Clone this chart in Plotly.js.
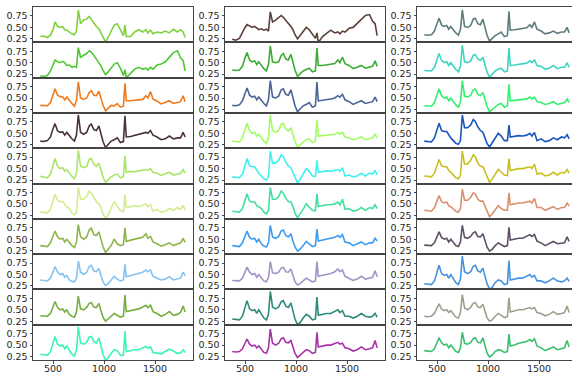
<!DOCTYPE html>
<html>
<head>
<meta charset="utf-8">
<script src="https://cdn.plot.ly/plotly-3.0.1.min.js"></script>
<style>html,body{margin:0;padding:0;background:#fff;}#plot{width:572px;height:374px;}</style>
</head>
<body>
<div id="plot"></div>
<script>
// shared wavenumber grid
const wavenumber = [375,410,445,475,500,520,545,570,595,615,635,660,685,710,730,748,770,800,830,855,875,900,925,950,970,990,1015,1040,1070,1100,1130,1160,1190,1205,1218,1260,1300,1340,1380,1410,1430,1455,1480,1520,1560,1600,1640,1680,1720,1750,1775,1795];
const xTicks = [500, 1000, 1500];
const yTicks = [0.25, 0.50, 0.75];
const yTickText = ['0.25', '0.50', '0.75'];

// column 1
const c1r1 = [0.30,0.31,0.28,0.33,0.45,0.62,0.52,0.50,0.52,0.45,0.44,0.40,0.36,0.34,0.42,0.88,0.58,0.66,0.68,0.74,0.68,0.58,0.52,0.47,0.38,0.28,0.18,0.28,0.42,0.55,0.58,0.45,0.32,0.55,0.30,0.30,0.40,0.45,0.40,0.45,0.38,0.44,0.36,0.40,0.38,0.42,0.38,0.46,0.40,0.45,0.40,0.28];
const c1r2 = [0.21,0.20,0.22,0.32,0.45,0.56,0.52,0.50,0.53,0.50,0.44,0.45,0.40,0.42,0.40,0.83,0.62,0.66,0.70,0.76,0.73,0.66,0.58,0.50,0.43,0.33,0.24,0.30,0.38,0.47,0.50,0.38,0.22,0.35,0.17,0.28,0.36,0.40,0.36,0.38,0.34,0.40,0.36,0.45,0.47,0.52,0.62,0.72,0.76,0.60,0.55,0.32];
const c1r3 = [0.34,0.33,0.33,0.40,0.58,0.70,0.56,0.53,0.52,0.46,0.52,0.44,0.38,0.32,0.45,0.85,0.50,0.47,0.50,0.62,0.66,0.56,0.55,0.65,0.50,0.34,0.22,0.27,0.34,0.33,0.38,0.30,0.32,0.82,0.44,0.44,0.45,0.46,0.47,0.55,0.50,0.64,0.48,0.43,0.37,0.40,0.44,0.38,0.40,0.42,0.55,0.42];
const c1r4 = [0.33,0.32,0.34,0.42,0.60,0.71,0.55,0.52,0.53,0.46,0.52,0.44,0.38,0.33,0.46,0.90,0.52,0.48,0.52,0.66,0.70,0.58,0.56,0.66,0.50,0.32,0.19,0.26,0.33,0.36,0.40,0.30,0.32,0.88,0.42,0.43,0.45,0.48,0.49,0.52,0.50,0.56,0.46,0.42,0.36,0.38,0.44,0.38,0.40,0.40,0.52,0.42];
const c1r5 = [0.33,0.32,0.30,0.38,0.58,0.72,0.55,0.50,0.52,0.44,0.48,0.40,0.33,0.28,0.40,0.90,0.55,0.52,0.55,0.70,0.72,0.60,0.55,0.62,0.48,0.32,0.20,0.26,0.32,0.36,0.38,0.30,0.33,0.78,0.42,0.44,0.43,0.45,0.46,0.48,0.46,0.50,0.42,0.40,0.35,0.38,0.42,0.36,0.38,0.40,0.48,0.40];
const c1r6 = [0.32,0.32,0.30,0.38,0.58,0.71,0.58,0.55,0.55,0.48,0.44,0.40,0.30,0.26,0.32,0.86,0.60,0.60,0.66,0.78,0.74,0.64,0.55,0.50,0.42,0.28,0.18,0.26,0.40,0.55,0.45,0.36,0.33,0.70,0.42,0.44,0.46,0.44,0.47,0.50,0.44,0.48,0.34,0.38,0.32,0.34,0.40,0.36,0.42,0.38,0.47,0.36];
const c1r7 = [0.36,0.35,0.34,0.42,0.58,0.68,0.55,0.50,0.52,0.44,0.50,0.42,0.36,0.32,0.44,0.82,0.55,0.50,0.55,0.70,0.74,0.60,0.58,0.66,0.50,0.34,0.21,0.28,0.36,0.50,0.40,0.36,0.38,0.75,0.45,0.48,0.50,0.52,0.54,0.62,0.52,0.56,0.44,0.40,0.35,0.38,0.42,0.36,0.40,0.42,0.52,0.43];
const c1r8 = [0.38,0.37,0.36,0.42,0.56,0.67,0.55,0.50,0.52,0.44,0.48,0.38,0.35,0.34,0.42,0.79,0.55,0.50,0.55,0.68,0.70,0.58,0.56,0.63,0.48,0.34,0.26,0.30,0.38,0.46,0.40,0.36,0.38,0.72,0.45,0.48,0.50,0.52,0.55,0.60,0.56,0.60,0.46,0.42,0.38,0.40,0.45,0.38,0.40,0.42,0.55,0.47];
const c1r9 = [0.37,0.37,0.36,0.42,0.56,0.68,0.55,0.50,0.52,0.45,0.50,0.40,0.36,0.34,0.45,0.80,0.52,0.50,0.55,0.64,0.66,0.56,0.55,0.64,0.48,0.34,0.25,0.30,0.36,0.42,0.38,0.34,0.36,0.82,0.46,0.48,0.50,0.52,0.56,0.60,0.55,0.60,0.46,0.42,0.36,0.40,0.46,0.38,0.40,0.44,0.58,0.45];
const c1r10 = [0.30,0.29,0.28,0.36,0.55,0.69,0.52,0.48,0.50,0.42,0.48,0.38,0.30,0.26,0.40,0.90,0.55,0.52,0.56,0.68,0.69,0.58,0.54,0.66,0.48,0.30,0.17,0.22,0.32,0.40,0.38,0.28,0.28,0.80,0.36,0.38,0.40,0.40,0.44,0.47,0.43,0.46,0.34,0.33,0.31,0.36,0.41,0.37,0.32,0.33,0.40,0.34];

// column 2
const c2r1 = [0.24,0.22,0.26,0.40,0.50,0.56,0.52,0.50,0.52,0.48,0.45,0.47,0.44,0.46,0.42,0.84,0.62,0.66,0.72,0.76,0.72,0.66,0.60,0.52,0.45,0.34,0.25,0.32,0.42,0.50,0.45,0.34,0.26,0.38,0.17,0.30,0.38,0.44,0.38,0.40,0.36,0.42,0.40,0.48,0.50,0.58,0.66,0.76,0.78,0.64,0.58,0.32];
const c2r2 = [0.34,0.33,0.34,0.42,0.60,0.72,0.56,0.52,0.54,0.46,0.52,0.44,0.37,0.32,0.46,0.86,0.52,0.50,0.52,0.66,0.70,0.58,0.56,0.68,0.50,0.34,0.20,0.26,0.32,0.35,0.38,0.30,0.32,0.82,0.44,0.44,0.45,0.46,0.48,0.56,0.50,0.62,0.48,0.44,0.37,0.40,0.44,0.38,0.40,0.42,0.54,0.42];
const c2r3 = [0.34,0.33,0.35,0.44,0.60,0.72,0.56,0.52,0.54,0.46,0.52,0.44,0.38,0.33,0.46,0.88,0.52,0.50,0.54,0.68,0.70,0.58,0.56,0.68,0.50,0.33,0.20,0.26,0.33,0.36,0.40,0.30,0.33,0.85,0.44,0.45,0.46,0.48,0.50,0.55,0.52,0.58,0.46,0.42,0.36,0.40,0.44,0.38,0.40,0.42,0.52,0.42];
const c2r4 = [0.33,0.32,0.31,0.40,0.60,0.72,0.56,0.50,0.52,0.44,0.48,0.40,0.33,0.28,0.40,0.90,0.56,0.52,0.56,0.70,0.72,0.60,0.55,0.62,0.48,0.32,0.20,0.25,0.32,0.36,0.38,0.30,0.33,0.80,0.44,0.45,0.45,0.46,0.48,0.52,0.48,0.52,0.42,0.40,0.36,0.38,0.42,0.36,0.38,0.40,0.48,0.40];
const c2r5 = [0.32,0.31,0.30,0.38,0.58,0.72,0.56,0.54,0.54,0.46,0.40,0.34,0.28,0.25,0.32,0.88,0.62,0.62,0.68,0.80,0.76,0.64,0.56,0.52,0.42,0.28,0.18,0.26,0.38,0.50,0.44,0.34,0.33,0.68,0.42,0.44,0.45,0.44,0.46,0.48,0.44,0.52,0.34,0.36,0.32,0.34,0.40,0.34,0.40,0.38,0.46,0.36];
const c2r6 = [0.34,0.33,0.32,0.40,0.58,0.72,0.56,0.54,0.54,0.46,0.44,0.40,0.32,0.28,0.36,0.86,0.60,0.60,0.66,0.78,0.74,0.62,0.55,0.54,0.44,0.30,0.20,0.27,0.38,0.50,0.44,0.36,0.35,0.72,0.44,0.46,0.48,0.48,0.50,0.54,0.48,0.60,0.38,0.40,0.34,0.36,0.42,0.36,0.42,0.40,0.48,0.40];
const c2r7 = [0.36,0.35,0.34,0.42,0.56,0.68,0.54,0.50,0.52,0.44,0.50,0.40,0.35,0.33,0.42,0.80,0.55,0.52,0.56,0.68,0.70,0.58,0.55,0.62,0.46,0.33,0.24,0.28,0.36,0.45,0.40,0.34,0.36,0.72,0.46,0.48,0.50,0.52,0.54,0.58,0.54,0.60,0.44,0.42,0.36,0.40,0.44,0.38,0.42,0.42,0.52,0.46];
const c2r8 = [0.37,0.36,0.36,0.42,0.55,0.66,0.55,0.50,0.52,0.44,0.50,0.42,0.36,0.34,0.44,0.78,0.54,0.52,0.55,0.64,0.66,0.56,0.55,0.62,0.46,0.34,0.27,0.30,0.36,0.42,0.38,0.34,0.36,0.78,0.46,0.48,0.50,0.52,0.56,0.62,0.56,0.60,0.46,0.42,0.37,0.40,0.46,0.40,0.42,0.44,0.58,0.45];
const c2r9 = [0.30,0.29,0.28,0.36,0.56,0.70,0.52,0.48,0.50,0.42,0.50,0.40,0.32,0.28,0.40,0.90,0.56,0.52,0.56,0.68,0.70,0.58,0.55,0.65,0.48,0.30,0.17,0.22,0.32,0.40,0.36,0.28,0.30,0.78,0.38,0.40,0.42,0.42,0.46,0.50,0.44,0.48,0.36,0.36,0.32,0.36,0.42,0.36,0.34,0.36,0.42,0.34];
const c2r10 = [0.36,0.35,0.36,0.42,0.54,0.63,0.52,0.48,0.50,0.44,0.48,0.40,0.34,0.32,0.44,0.85,0.54,0.50,0.54,0.64,0.66,0.56,0.55,0.60,0.46,0.32,0.23,0.28,0.34,0.40,0.38,0.32,0.34,0.78,0.46,0.48,0.50,0.50,0.54,0.56,0.52,0.54,0.44,0.42,0.37,0.40,0.46,0.40,0.42,0.44,0.60,0.44];

// column 3
const c3r1 = [0.34,0.33,0.34,0.42,0.58,0.70,0.55,0.52,0.54,0.46,0.52,0.44,0.38,0.33,0.46,0.88,0.52,0.50,0.54,0.68,0.70,0.58,0.56,0.68,0.50,0.33,0.20,0.26,0.32,0.36,0.40,0.30,0.32,0.85,0.44,0.45,0.46,0.47,0.49,0.56,0.50,0.62,0.46,0.42,0.36,0.38,0.42,0.37,0.40,0.40,0.50,0.38];
const c3r2 = [0.33,0.32,0.32,0.40,0.58,0.70,0.55,0.50,0.52,0.44,0.50,0.42,0.35,0.30,0.42,0.88,0.52,0.50,0.54,0.66,0.68,0.58,0.55,0.62,0.48,0.30,0.18,0.24,0.32,0.36,0.38,0.30,0.32,0.82,0.44,0.45,0.46,0.47,0.49,0.54,0.50,0.56,0.44,0.42,0.36,0.38,0.44,0.37,0.40,0.40,0.50,0.40];
const c3r3 = [0.33,0.32,0.32,0.40,0.58,0.70,0.55,0.50,0.52,0.44,0.50,0.42,0.35,0.30,0.42,0.88,0.54,0.52,0.56,0.68,0.70,0.58,0.55,0.62,0.48,0.32,0.20,0.25,0.32,0.36,0.38,0.30,0.33,0.80,0.44,0.45,0.46,0.46,0.48,0.52,0.48,0.52,0.42,0.40,0.36,0.38,0.42,0.36,0.38,0.40,0.48,0.40];
const c3r4 = [0.33,0.32,0.31,0.40,0.58,0.72,0.56,0.54,0.54,0.46,0.40,0.34,0.28,0.26,0.34,0.90,0.62,0.62,0.68,0.80,0.76,0.64,0.56,0.52,0.42,0.28,0.20,0.28,0.40,0.50,0.44,0.34,0.34,0.68,0.42,0.44,0.45,0.44,0.46,0.50,0.44,0.52,0.34,0.38,0.32,0.34,0.40,0.36,0.42,0.40,0.47,0.38];
const c3r5 = [0.34,0.33,0.32,0.40,0.58,0.70,0.56,0.54,0.54,0.46,0.42,0.36,0.30,0.28,0.36,0.88,0.60,0.60,0.68,0.80,0.76,0.62,0.55,0.54,0.44,0.30,0.20,0.27,0.38,0.48,0.42,0.36,0.35,0.72,0.46,0.48,0.50,0.50,0.52,0.54,0.50,0.60,0.38,0.40,0.34,0.36,0.42,0.36,0.42,0.40,0.48,0.40];
const c3r6 = [0.36,0.35,0.34,0.42,0.56,0.68,0.55,0.52,0.54,0.46,0.44,0.38,0.34,0.32,0.40,0.82,0.58,0.58,0.64,0.74,0.72,0.60,0.56,0.56,0.46,0.32,0.22,0.28,0.38,0.46,0.40,0.36,0.36,0.74,0.48,0.50,0.52,0.52,0.55,0.56,0.52,0.62,0.42,0.42,0.36,0.40,0.44,0.38,0.42,0.42,0.52,0.45];
const c3r7 = [0.37,0.36,0.36,0.42,0.56,0.66,0.54,0.50,0.52,0.44,0.50,0.42,0.36,0.34,0.44,0.80,0.54,0.52,0.56,0.64,0.66,0.56,0.55,0.62,0.46,0.33,0.24,0.28,0.36,0.42,0.38,0.34,0.36,0.76,0.48,0.50,0.52,0.52,0.56,0.60,0.56,0.60,0.46,0.42,0.36,0.40,0.45,0.40,0.42,0.42,0.55,0.45];
const c3r8 = [0.30,0.29,0.28,0.36,0.56,0.70,0.52,0.48,0.50,0.42,0.50,0.40,0.32,0.28,0.40,0.90,0.56,0.52,0.56,0.68,0.70,0.58,0.55,0.64,0.48,0.30,0.18,0.22,0.32,0.38,0.36,0.28,0.30,0.80,0.38,0.40,0.42,0.42,0.46,0.50,0.44,0.48,0.36,0.36,0.32,0.36,0.42,0.36,0.34,0.36,0.42,0.35];
const c3r9 = [0.36,0.35,0.36,0.42,0.54,0.63,0.52,0.48,0.50,0.44,0.48,0.40,0.34,0.32,0.44,0.83,0.54,0.50,0.55,0.64,0.66,0.56,0.55,0.62,0.46,0.33,0.25,0.28,0.36,0.42,0.38,0.33,0.35,0.76,0.45,0.48,0.50,0.50,0.52,0.55,0.52,0.55,0.44,0.42,0.37,0.40,0.46,0.40,0.42,0.44,0.58,0.44];
const c3r10 = [0.38,0.37,0.36,0.42,0.56,0.66,0.55,0.50,0.52,0.44,0.50,0.42,0.36,0.34,0.44,0.78,0.54,0.52,0.56,0.64,0.66,0.56,0.55,0.66,0.46,0.33,0.24,0.28,0.36,0.40,0.38,0.34,0.36,0.74,0.48,0.50,0.54,0.56,0.58,0.62,0.58,0.64,0.48,0.44,0.38,0.42,0.46,0.40,0.42,0.44,0.60,0.46];

const col1Colors = ['#7ed23c','#4cc830','#f07a1c','#4b3236','#a9e66a','#d2ec8e','#8db548','#84c4f2','#78ad44','#3cf5b4'];
const col2Colors = ['#5b4038','#3daa35','#4b6496','#a2fc64','#3ef0f0','#40e09e','#3c9cf0','#a493c9','#2e8a7a','#a732a7'];
const col3Colors = ['#5d7b7b','#3dd4c0','#33f070','#1a56c0','#c8c021','#d9906f','#5d5068','#4592e3','#a09f8c','#3cbf6f'];

const columns = [
  {series: [c1r1,c1r2,c1r3,c1r4,c1r5,c1r6,c1r7,c1r8,c1r9,c1r10], colors: col1Colors},
  {series: [c2r1,c2r2,c2r3,c2r4,c2r5,c2r6,c2r7,c2r8,c2r9,c2r10], colors: col2Colors},
  {series: [c3r1,c3r2,c3r3,c3r4,c3r5,c3r6,c3r7,c3r8,c3r9,c3r10], colors: col3Colors}
];

const W = 572, H = 374;
const colPx = [[33,193],[225,385],[417,572]];
const xRanges = [[304,1872],[304,1872],[304,1823]];
const topPx = 7, botPx = 360, nRows = 10;
const rowH = (botPx - topPx) / nRows;

const traces = [];
const layout = {
  width: W, height: H,
  margin: {l:0, r:0, t:0, b:0},
  paper_bgcolor: '#fff', plot_bgcolor: '#fff',
  showlegend: false,
  font: {family: 'DejaVu Sans', size: 9.5, color: '#262626'}
};

columns.forEach((col, c) => {
  col.series.forEach((ys, r) => {
    const idx = c * nRows + r + 1;
    const xa = idx === 1 ? 'x' : 'x' + idx;
    const ya = idx === 1 ? 'y' : 'y' + idx;
    traces.push({
      type: 'scatter', mode: 'lines',
      x: wavenumber, y: ys,
      xaxis: xa, yaxis: ya,
      line: {color: col.colors[r], width: 1.6},
      hoverinfo: 'skip'
    });
    const t = topPx + r * rowH, b = topPx + (r + 1) * rowH;
    const last = r === nRows - 1;
    layout['xaxis' + (idx === 1 ? '' : idx)] = {
      domain: [colPx[c][0] / W, colPx[c][1] / W],
      range: xRanges[c],
      anchor: ya,
      showline: true, mirror: true, linecolor: '#444', linewidth: 1,
      showgrid: false, zeroline: false,
      tickmode: 'array', tickvals: xTicks, ticktext: xTicks.map(String),
      ticks: last ? 'outside' : '', ticklen: 2.5, tickcolor: '#444',
      ticklabelstandoff: -3,
      showticklabels: last,
      tickfont: {family: 'DejaVu Sans', size: 9.5, color: '#262626'},
      fixedrange: true
    };
    layout['yaxis' + (idx === 1 ? '' : idx)] = {
      domain: [(H - b) / H, (H - t) / H],
      range: [0.175, 0.945],
      anchor: xa,
      showline: true, mirror: true, linecolor: '#444', linewidth: 1,
      showgrid: false, zeroline: false,
      tickmode: 'array', tickvals: yTicks, ticktext: yTickText,
      ticks: 'outside', ticklen: 2.5, tickcolor: '#444',
      tickfont: {family: 'DejaVu Sans', size: 9.5, color: '#262626'},
      fixedrange: true
    };
  });
});

Plotly.newPlot('plot', traces, layout, {staticPlot: true, displayModeBar: false});
</script>
</body>
</html>
